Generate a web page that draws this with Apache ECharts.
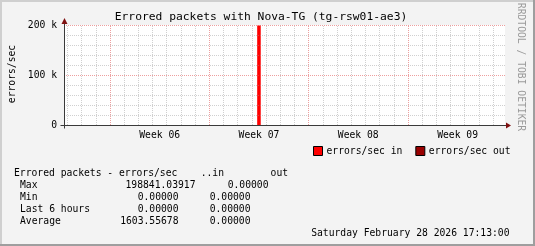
<!DOCTYPE html>
<html><head><meta charset="utf-8">
<script src="https://cdn.jsdelivr.net/npm/echarts@6/dist/echarts.min.js"></script>
<style>html,body{margin:0;padding:0;background:#F3F3F3}#c{width:535px;height:246px}</style>
</head><body><div id="c"></div>
<script>
// ---- data ----
const title = 'Errored packets with Nova-TG (tg-rsw01-ae3)';
const yTickValues = [0, 100000, 200000];
const yTickLabels = ['0', '100 k', '200 k'];
const weekLabels = ['Week 06', 'Week 07', 'Week 08', 'Week 09'];
const weekLabelDays = [3.5, 10.5, 17.5, 24.5];   // days since Mon Feb 2 2026
const weekStartDays = [0, 7, 14, 21];
const inTimes  = [-3.24, 10.375, 10.625, 27.84];
const inValues = [0, 198841.03917, 0, 0];
const outTimes  = [-3.24, 27.84];
const outValues = [0, 0];
const legendNames = ['errors/sec in', 'errors/sec out'];
const statHeader = 'Errored packets - errors/sec    ..in        out';
const statLabels = ['Max', 'Min', 'Last 6 hours', 'Average'];
const statIn  = ['198841.03917', '0.00000', '0.00000', '1603.55678'];
const statOut = ['0.00000', '0.00000', '0.00000', '0.00000'];
const footer = 'Saturday February 28 2026 17:13:00';
const sideText = 'RRDTOOL / TOBI OETIKER';

// ---- layout / style ----
const X_MIN = -3.24, X_MAX = 27.84;
const MONO = '"DejaVu Sans Mono", monospace';
const FS = 9.7;
const GRID_C = 'rgba(150,150,150,0.45)';
const MGRID_C = 'rgba(222,80,80,0.55)';
const AXIS_C = '#3a3a3a';
const ARROW_C = '#7F1010';
const IN_C = '#FF0000', OUT_C = '#990000';

const minorLines = [];
for (let d = Math.ceil(X_MIN); d <= X_MAX; d++) {
  if (weekStartDays.indexOf(d) < 0) minorLines.push({xAxis: d, lineStyle: {color: GRID_C, type: [1, 1], width: 1}});
}
const majorLines = weekStartDays.map(d => ({xAxis: d, lineStyle: {color: MGRID_C, type: [1, 1], width: 1}}));

const chart = echarts.init(document.getElementById('c'), null, {renderer: 'canvas'});

const inRight  = [195.5, 178.5, 178.5, 178.5];
const outRight = [268.5, 250.5, 250.5, 250.5];
const rowY = [185.3, 197.3, 209.5, 221.6];

const graphics = [
  {type: 'rect', shape: {x: 0, y: 0, width: 535, height: 246}, style: {fill: '#F3F3F3'}, z: -10, silent: true},
  {type: 'rect', shape: {x: 0, y: 0, width: 535, height: 2}, style: {fill: '#CFCFCF'}, z: -9},
  {type: 'rect', shape: {x: 0, y: 0, width: 2, height: 246}, style: {fill: '#CFCFCF'}, z: -9},
  {type: 'rect', shape: {x: 0, y: 244, width: 535, height: 2}, style: {fill: '#9E9E9E'}, z: -9},
  {type: 'rect', shape: {x: 533, y: 0, width: 2, height: 246}, style: {fill: '#9E9E9E'}, z: -9},
  {type: 'text', x: 261, y: 17, style: {text: title, font: '11.3px ' + MONO, fill: '#000', align: 'center', verticalAlign: 'middle'}},
  {type: 'text', x: 12, y: 74, rotation: Math.PI / 2, style: {text: 'errors/sec', font: FS + 'px ' + MONO, fill: '#000', align: 'center', verticalAlign: 'middle'}},
  {type: 'text', x: 521, y: 67, rotation: -Math.PI / 2, style: {text: sideText, font: FS + 'px ' + MONO, fill: '#9A9A9A', align: 'center', verticalAlign: 'middle'}},
  {type: 'text', x: 14, y: 173.7, style: {text: statHeader, font: FS + 'px ' + MONO, fill: '#000', align: 'left', verticalAlign: 'middle'}},
  {type: 'text', x: 509.5, y: 233.3, style: {text: footer, font: FS + 'px ' + MONO, fill: '#000', align: 'right', verticalAlign: 'middle'}}
];
statLabels.forEach((lab, i) => {
  graphics.push({type: 'text', x: 20, y: rowY[i], style: {text: lab, font: FS + 'px ' + MONO, fill: '#000', align: 'left', verticalAlign: 'middle'}});
  graphics.push({type: 'text', x: inRight[i], y: rowY[i], style: {text: statIn[i], font: FS + 'px ' + MONO, fill: '#000', align: 'right', verticalAlign: 'middle'}});
  graphics.push({type: 'text', x: outRight[i], y: rowY[i], style: {text: statOut[i], font: FS + 'px ' + MONO, fill: '#000', align: 'right', verticalAlign: 'middle'}});
});

chart.setOption({
  animation: false,
  backgroundColor: '#F3F3F3',
  grid: {left: 64, top: 25, width: 441, height: 100, containLabel: false, show: true, backgroundColor: '#FFFFFF', borderWidth: 0},
  legend: {
    data: [
      {name: legendNames[0], icon: 'rect', itemStyle: {color: IN_C, borderColor: '#000', borderWidth: 1, opacity: 1}},
      {name: legendNames[1], icon: 'rect', itemStyle: {color: OUT_C, borderColor: '#000', borderWidth: 1, opacity: 1}}
    ],
    left: 313, top: 146, padding: 0, itemWidth: 9, itemHeight: 9, itemGap: 13,
    textStyle: {fontFamily: MONO, fontSize: FS, color: '#000', padding: [0, 0, 0, -1]},
    selectedMode: false
  },
  xAxis: {
    type: 'value', min: X_MIN, max: X_MAX, z: 10,
    axisLine: {show: true, onZero: false, lineStyle: {color: AXIS_C, width: 1}},
    axisTick: {show: false},
    splitLine: {show: false},
    axisLabel: {show: true, customValues: weekLabelDays, formatter: (v) => weekLabels[weekLabelDays.indexOf(v)], fontFamily: MONO, fontSize: FS, color: '#000', margin: 5}
  },
  yAxis: {
    type: 'value', min: 0, max: 200000, interval: 100000, z: 10,
    axisLine: {show: true, onZero: false, lineStyle: {color: AXIS_C, width: 1}},
    axisTick: {show: false},
    axisLabel: {formatter: (v) => yTickLabels[yTickValues.indexOf(v)], fontFamily: MONO, fontSize: FS, color: '#000', margin: 7},
    splitLine: {show: true, lineStyle: {color: MGRID_C, type: [1, 1]}},
    minorTick: {show: false, splitNumber: 5},
    minorSplitLine: {show: true, lineStyle: {color: GRID_C, type: [1, 1]}}
  },
  series: [
    {name: 'grid', type: 'line', data: [[X_MIN, 0]], showSymbol: false, lineStyle: {opacity: 0}, z: 1, silent: true,
     markLine: {silent: true, symbol: ['none', 'none'], label: {show: false}, animation: false, data: minorLines.concat(majorLines)}},
    // the "out" line lies on zero, hidden beneath the x axis as in the reference
    {name: legendNames[1], type: 'line', data: outTimes.map((t, i) => [t, outValues[i]]), showSymbol: false,
     itemStyle: {color: OUT_C}, lineStyle: {color: OUT_C, width: 1, opacity: 0}, z: 3},
    {name: legendNames[0], type: 'line', step: 'end', data: inTimes.map((t, i) => [t, inValues[i]]), showSymbol: false,
     itemStyle: {color: IN_C}, lineStyle: {width: 0}, areaStyle: {color: IN_C, opacity: 1}, z: 4}
  ],
  graphic: graphics
});

// axis arrows and small overhangs (as in rrdtool), placed through the axis scales
const o = chart.convertToPixel({gridIndex: 0}, [X_MIN, 0]);
const e = chart.convertToPixel({gridIndex: 0}, [X_MAX, 200000]);
const ox = Math.round(o[0]) + 0.5, oy = Math.round(o[1]) + 0.5;
chart.setOption({graphic: graphics.concat([
  {type: 'line', shape: {x1: ox - 4, y1: oy, x2: e[0] + 1, y2: oy}, style: {stroke: AXIS_C, lineWidth: 1}, z: 20},
  {type: 'line', shape: {x1: ox, y1: oy + 3, x2: ox, y2: e[1] - 1}, style: {stroke: AXIS_C, lineWidth: 1}, z: 20},
  {type: 'polygon', shape: {points: [[e[0] + 1, oy - 3], [e[0] + 6, oy], [e[0] + 1, oy + 3]]}, style: {fill: ARROW_C}, z: 21},
  {type: 'polygon', shape: {points: [[ox - 3, e[1] - 1], [ox, e[1] - 7], [ox + 3, e[1] - 1]]}, style: {fill: ARROW_C}, z: 21}
])});
</script></body></html>
